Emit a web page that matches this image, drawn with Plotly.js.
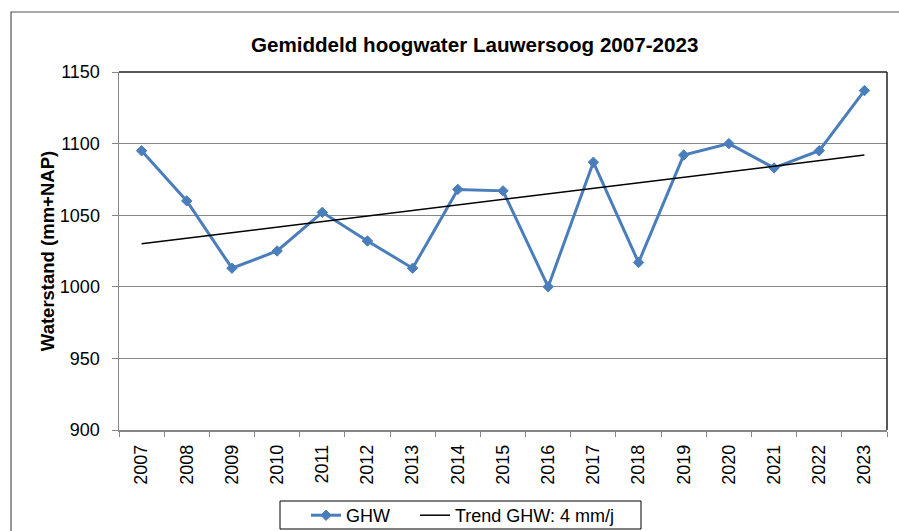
<!DOCTYPE html>
<html>
<head>
<meta charset="utf-8">
<script src="https://cdn.plot.ly/plotly-3.0.1.min.js"></script>
<style>
html, body { margin: 0; padding: 0; background: #fff; overflow: hidden; }
#chart { width: 899px; height: 531px; }
</style>
</head>
<body>
<div id="chart"></div>
<script>
var years = ['2007','2008','2009','2010','2011','2012','2013','2014','2015','2016','2017','2018','2019','2020','2021','2022','2023'];
var ghw = [1095, 1060, 1013, 1025, 1052, 1032, 1013, 1068, 1067, 1000, 1087, 1017, 1092, 1100, 1083, 1095, 1137];
var trendYears = ['2007', '2023'];
var trendValues = [1030, 1092];
var yTicks = [900, 950, 1000, 1050, 1100, 1150];

var FONT = 'Liberation Sans, Arial, sans-serif';

var traces = [
  {
    x: years, y: ghw, type: 'scatter', mode: 'lines+markers', name: 'GHW',
    line: { color: '#4A7EBB', width: 3 },
    marker: { symbol: 'diamond', size: 8, color: '#4A7EBB', line: { color: '#4A7EBB', width: 1 } },
    legendwidth: 64
  },
  {
    x: trendYears, y: trendValues, type: 'scatter', mode: 'lines', name: 'Trend GHW: 4 mm/j',
    line: { color: '#000000', width: 1.5 }
  }
];

var layout = {
  width: 899, height: 531,
  margin: { l: 119, r: 12, t: 72, b: 101, autoexpand: false },
  paper_bgcolor: '#ffffff', plot_bgcolor: '#ffffff',
  font: { family: FONT, size: 18, color: '#000' },
  showlegend: true,
  title: {
    text: '<b>Gemiddeld hoogwater Lauwersoog 2007-2023</b>',
    font: { family: FONT, size: 20.6, color: '#000' },
    xref: 'container', x: 0.528, xanchor: 'center',
    yref: 'container', y: 0.915, yanchor: 'middle'
  },
  xaxis: {
    type: 'category', categoryorder: 'array', categoryarray: years,
    range: [-0.5, 16.5], autorange: false,
    tickangle: -90, tickson: 'boundaries', ticks: 'outside', ticklen: 5,
    tickcolor: '#868686', tickwidth: 1,
    showline: true, linecolor: '#868686', linewidth: 1.5,
    showgrid: false, zeroline: false, automargin: false,
    tickfont: { family: FONT, size: 18, color: '#000' },
    ticklabelstandoff: 6,
    fixedrange: true
  },
  yaxis: {
    range: [900, 1150], autorange: false, tickvals: yTicks, ticktext: yTicks.map(String),
    ticks: 'outside', ticklen: 6, tickcolor: '#868686', tickwidth: 1,
    showline: true, linecolor: '#868686', linewidth: 1.5,
    showgrid: true, gridcolor: '#868686', gridwidth: 1, zeroline: false, automargin: false,
    tickfont: { family: FONT, size: 18, color: '#000' },
    ticklabelstandoff: 8,
    title: { text: '<b>Waterstand (mm+NAP)</b>', font: { family: FONT, size: 18.5, color: '#000' }, standoff: 0 },
    fixedrange: true
  },
  legend: {
    orientation: 'h', xref: 'container', yref: 'container',
    x: 306 / 899, xanchor: 'left', y: 1 - 497 / 531, yanchor: 'top',
    borderwidth: 0, bgcolor: 'rgba(0,0,0,0)',
    font: { family: FONT, size: 18, color: '#000' },
    tracegroupgap: 0
  },
  shapes: [
    { type: 'line', xref: 'paper', yref: 'paper', x0: 0, x1: 1, y0: 1, y1: 1, line: { color: '#222', width: 1.5 } },
    { type: 'line', xref: 'paper', yref: 'paper', x0: 1, x1: 1, y0: 0, y1: 1, line: { color: '#222', width: 1.5 } },
    { type: 'rect', xref: 'paper', yref: 'paper', x0: -0.1406, x1: 1.2, y0: -0.5, y1: 1.1676, line: { color: '#555', width: 1.2 }, layer: 'below' },
    { type: 'rect', xref: 'paper', yref: 'paper', x0: (280 - 119) / 768, x1: (641 - 119) / 768, y0: (430 - 529) / 358, y1: (430 - 501) / 358, line: { color: '#000', width: 1 } }
  ]
};

Plotly.newPlot('chart', traces, layout, { displayModeBar: false, staticPlot: true });
</script>
</body>
</html>
